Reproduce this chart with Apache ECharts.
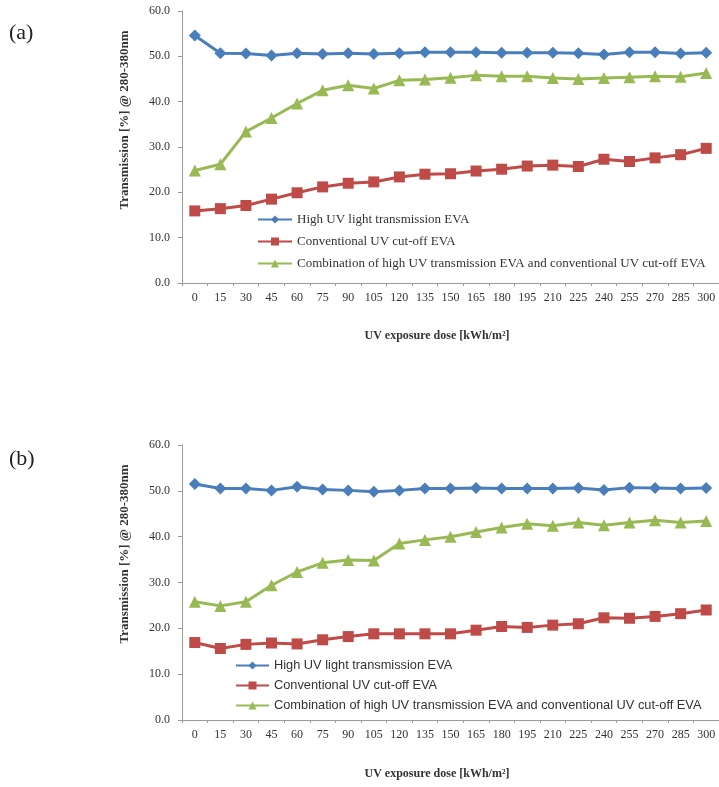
<!DOCTYPE html>
<html>
<head>
<meta charset="utf-8">
<script src="https://cdn.jsdelivr.net/npm/echarts@6/dist/echarts.min.js"></script>
<style>
  html, body { margin: 0; padding: 0; background: #fff; }
  #main { width: 719px; height: 787px; }
</style>
</head>
<body>
<div id="main"></div>
<script>
//剂量（横轴类别）
var doses = ["0", "15", "30", "45", "60", "75", "90", "105", "120", "135", "150",
  "165", "180", "195", "210", "225", "240", "255", "270", "285", "300"];
var names = ["High UV light transmission EVA", "Conventional UV cut-off EVA",
  "Combination of high UV transmission EVA and conventional UV cut-off EVA"];

//(a) 数据
var highA = [54.6, 50.7, 50.6, 50.2, 50.7, 50.5, 50.7, 50.5, 50.7, 50.9, 50.9,
  50.9, 50.8, 50.8, 50.8, 50.7, 50.4, 50.9, 50.9, 50.6, 50.8];
var convA = [15.9, 16.4, 17.1, 18.5, 19.9, 21.2, 22.0, 22.3, 23.4, 24.0, 24.1,
  24.7, 25.1, 25.8, 26.0, 25.7, 27.3, 26.8, 27.6, 28.3, 29.7];
var combA = [24.8, 26.2, 33.4, 36.4, 39.6, 42.5, 43.6, 42.9, 44.7, 44.9, 45.3,
  45.8, 45.6, 45.6, 45.2, 45.0, 45.2, 45.4, 45.6, 45.5, 46.3];

//(b) 数据
var highB = [51.5, 50.5, 50.5, 50.1, 50.9, 50.3, 50.1, 49.8, 50.1, 50.5, 50.5,
  50.6, 50.5, 50.5, 50.5, 50.6, 50.2, 50.7, 50.6, 50.5, 50.6];
var convB = [16.9, 15.6, 16.5, 16.8, 16.6, 17.5, 18.2, 18.8, 18.8, 18.8, 18.8,
  19.6, 20.4, 20.2, 20.7, 21.0, 22.3, 22.2, 22.6, 23.2, 24.0];
var combB = [25.8, 24.9, 25.8, 29.4, 32.3, 34.3, 34.9, 34.8, 38.5, 39.3, 40.0,
  41.0, 42.0, 42.8, 42.4, 43.1, 42.5, 43.1, 43.6, 43.1, 43.4];

var colors = ["#4a7ebb", "#be4b48", "#98b954"];
var symbols = ["diamond", "rect", "triangle"];
var symbolSizes = [12, 11, 12];

var serif = "'Liberation Serif', 'DejaVu Serif', serif";
var sans = "'Liberation Sans', Arial, sans-serif";

function xAxis(idx) {
  return {
    type: "category",
    gridIndex: idx,
    data: doses,
    boundaryGap: true,
    axisLine: { lineStyle: { color: "#9a9a9a", width: 1 } },
    axisTick: { show: true, length: 3, lineStyle: { color: "#9a9a9a" } },
    axisLabel: { interval: 0, margin: 9, fontFamily: serif, fontSize: 12, color: "#333" }
  };
}

function yAxis(idx) {
  return {
    type: "value",
    gridIndex: idx,
    min: 0,
    max: 60,
    interval: 10,
    splitLine: { show: false },
    axisLine: { show: true, lineStyle: { color: "#9a9a9a", width: 1 } },
    axisTick: { show: true, length: 4, lineStyle: { color: "#9a9a9a" } },
    axisLabel: {
      margin: 12, fontFamily: serif, fontSize: 12, color: "#333",
      formatter: function (v) { return v.toFixed(1); }
    }
  };
}

function makeSeries(idx, list) {
  return list.map(function (d, i) {
    return {
      name: names[i],
      type: "line",
      xAxisIndex: idx,
      yAxisIndex: idx,
      data: d,
      symbol: symbols[i],
      symbolSize: symbolSizes[i],
      itemStyle: { color: colors[i] },
      lineStyle: { color: colors[i], width: 3 },
      animation: false
    };
  });
}

var myChart = echarts.init(document.getElementById("main"));
var option = {
  backgroundColor: "#fff",
  grid: [
    { left: 182, top: 11, width: 541, height: 272 },
    { left: 182, top: 445, width: 541, height: 275 }
  ],
  xAxis: [xAxis(0), xAxis(1)],
  yAxis: [yAxis(0), yAxis(1)],
  legend: [
    {
      data: names, orient: "vertical", left: 257, top: 213, padding: 0,
      itemWidth: 34, itemHeight: 10, itemGap: 9,
      textStyle: { fontFamily: serif, fontSize: 13, color: "#333" }
    },
    {
      data: names, orient: "vertical", left: 235, top: 659, padding: 0,
      itemWidth: 33, itemHeight: 10, itemGap: 7,
      textStyle: { fontFamily: sans, fontSize: 12.8, color: "#333" }
    }
  ],
  series: makeSeries(0, [highA, convA, combA]).concat(makeSeries(1, [highB, convB, combB])),
  graphic: [
    { type: "text", left: 9, top: 22, style: { text: "(a)", font: "22px " + serif, fill: "#222" } },
    { type: "text", left: 9, top: 448, style: { text: "(b)", font: "22px " + serif, fill: "#222" } },
    {
      type: "text", x: 125, y: 120, rotation: Math.PI / 2,
      style: { text: "Transmission [%] @ 280-380nm", font: "bold 13px " + serif, fill: "#333",
        align: "center", verticalAlign: "middle" }
    },
    {
      type: "text", x: 125, y: 554, rotation: Math.PI / 2,
      style: { text: "Transmission [%] @ 280-380nm", font: "bold 13px " + serif, fill: "#333",
        align: "center", verticalAlign: "middle" }
    },
    {
      type: "text", x: 437, y: 336,
      style: { text: "UV exposure dose [kWh/m²]", font: "bold 12px " + serif, fill: "#333",
        align: "center", verticalAlign: "middle" }
    },
    {
      type: "text", x: 437, y: 774,
      style: { text: "UV exposure dose [kWh/m²]", font: "bold 12px " + serif, fill: "#333",
        align: "center", verticalAlign: "middle" }
    }
  ]
};
myChart.setOption(option);
</script>
</body>
</html>
